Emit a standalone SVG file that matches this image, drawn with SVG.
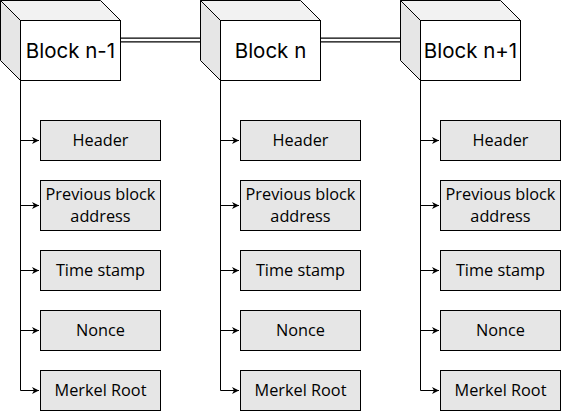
<svg xmlns="http://www.w3.org/2000/svg" width="562" height="411" viewBox="0 0 562 411">
<style>
.top{fill:#f2f2f2;stroke:#000;stroke-width:1}
.side{fill:#e6e6e6;stroke:#000;stroke-width:1}
.front{fill:#fff;stroke:#000;stroke-width:1}
.box{fill:#e6e6e6;stroke:#000;stroke-width:1}
.bt{font-family:Inter,"Liberation Sans",sans-serif;font-size:20.5px;fill:#000;text-anchor:middle}
.lt{font-family:"Open Sans","Noto Sans",sans-serif;font-size:16.3px;fill:#000;text-anchor:middle}
.edge{fill:none;stroke:#000;stroke-width:1}
</style>
<defs>
<marker id="ah" markerWidth="8" markerHeight="8" viewBox="0 0 8 8" refX="7" refY="4" orient="auto" markerUnits="userSpaceOnUse">
<path d="M0,0.5 L7,4 L0,7.5 L2,4 Z" fill="#000"/>
</marker>
<g id="cube">
<polygon class="top" points="0.5,0.5 100.5,0.5 120.5,20.5 20.5,20.5"/>
<polygon class="side" points="0.5,0.5 20.5,20.5 20.5,80.5 0.5,60.5"/>
<rect class="front" x="20.5" y="20.5" width="100" height="60"/>
</g>
</defs>
<g id="links">
<path d="M120,40 H200 M320,40 H400" stroke="#000" stroke-width="5" fill="none"/>
<path d="M120,40 H200 M320,40 H400" stroke="#fff" stroke-width="2.5" fill="none"/>
</g>
<g id="connectors">
<path class="edge" d="M20.5,80 V390.5 H39" marker-end="url(#ah)"/>
<path class="edge" d="M20.5,140.5 H39" marker-end="url(#ah)"/>
<path class="edge" d="M20.5,205.5 H39" marker-end="url(#ah)"/>
<path class="edge" d="M20.5,270.5 H39" marker-end="url(#ah)"/>
<path class="edge" d="M20.5,330.5 H39" marker-end="url(#ah)"/>
<path class="edge" d="M220.5,80 V390.5 H239" marker-end="url(#ah)"/>
<path class="edge" d="M220.5,140.5 H239" marker-end="url(#ah)"/>
<path class="edge" d="M220.5,205.5 H239" marker-end="url(#ah)"/>
<path class="edge" d="M220.5,270.5 H239" marker-end="url(#ah)"/>
<path class="edge" d="M220.5,330.5 H239" marker-end="url(#ah)"/>
<path class="edge" d="M420.5,80 V390.5 H439" marker-end="url(#ah)"/>
<path class="edge" d="M420.5,140.5 H439" marker-end="url(#ah)"/>
<path class="edge" d="M420.5,205.5 H439" marker-end="url(#ah)"/>
<path class="edge" d="M420.5,270.5 H439" marker-end="url(#ah)"/>
<path class="edge" d="M420.5,330.5 H439" marker-end="url(#ah)"/>
</g>
<g id="block-n-1"><use href="#cube"/><text class="bt" x="70.5" y="57.5">Block n-1</text></g>
<g id="block-n"><use href="#cube" x="200"/><text class="bt" x="270.5" y="57.5">Block n</text></g>
<g id="block-n1"><use href="#cube" x="400"/><text class="bt" x="470.5" y="57.5">Block n+1</text></g>
<g id="c1-header"><rect class="box" x="40.5" y="120.5" width="120" height="40"/><text class="lt" x="100.5" y="146">Header</text></g>
<g id="c1-prev"><rect class="box" x="40.5" y="180.5" width="120" height="50"/><text class="lt" x="100.5" y="199.5">Previous block</text><text class="lt" x="100.5" y="221.8">address</text></g>
<g id="c1-time"><rect class="box" x="40.5" y="250.5" width="120" height="40"/><text class="lt" x="100.5" y="276">Time stamp</text></g>
<g id="c1-nonce"><rect class="box" x="40.5" y="310.5" width="120" height="40"/><text class="lt" x="100.5" y="336">Nonce</text></g>
<g id="c1-merkel"><rect class="box" x="40.5" y="370.5" width="120" height="40"/><text class="lt" x="100.5" y="396">Merkel Root</text></g>
<g id="c2-header"><rect class="box" x="240.5" y="120.5" width="120" height="40"/><text class="lt" x="300.5" y="146">Header</text></g>
<g id="c2-prev"><rect class="box" x="240.5" y="180.5" width="120" height="50"/><text class="lt" x="300.5" y="199.5">Previous block</text><text class="lt" x="300.5" y="221.8">address</text></g>
<g id="c2-time"><rect class="box" x="240.5" y="250.5" width="120" height="40"/><text class="lt" x="300.5" y="276">Time stamp</text></g>
<g id="c2-nonce"><rect class="box" x="240.5" y="310.5" width="120" height="40"/><text class="lt" x="300.5" y="336">Nonce</text></g>
<g id="c2-merkel"><rect class="box" x="240.5" y="370.5" width="120" height="40"/><text class="lt" x="300.5" y="396">Merkel Root</text></g>
<g id="c3-header"><rect class="box" x="440.5" y="120.5" width="120" height="40"/><text class="lt" x="500.5" y="146">Header</text></g>
<g id="c3-prev"><rect class="box" x="440.5" y="180.5" width="120" height="50"/><text class="lt" x="500.5" y="199.5">Previous block</text><text class="lt" x="500.5" y="221.8">address</text></g>
<g id="c3-time"><rect class="box" x="440.5" y="250.5" width="120" height="40"/><text class="lt" x="500.5" y="276">Time stamp</text></g>
<g id="c3-nonce"><rect class="box" x="440.5" y="310.5" width="120" height="40"/><text class="lt" x="500.5" y="336">Nonce</text></g>
<g id="c3-merkel"><rect class="box" x="440.5" y="370.5" width="120" height="40"/><text class="lt" x="500.5" y="396">Merkel Root</text></g>
</svg>
